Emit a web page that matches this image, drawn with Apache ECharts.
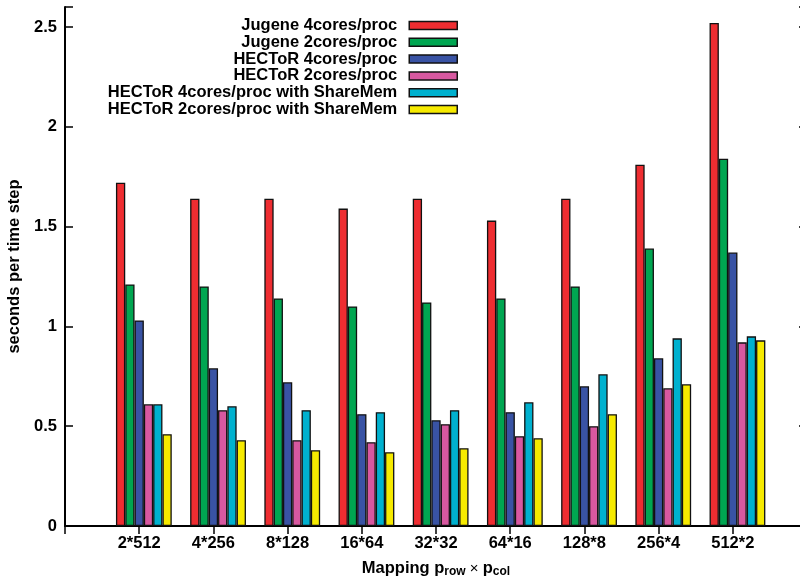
<!DOCTYPE html>
<html>
<head>
<meta charset="utf-8">
<script src="https://cdn.jsdelivr.net/npm/echarts@6/dist/echarts.min.js"></script>
<style>
  html, body { margin: 0; padding: 0; background: #fff; }
  #chart { width: 800px; height: 582px; }
</style>
</head>
<body>
<div id="chart"></div>
<script>
const mappings = ["2*512", "4*256", "8*128", "16*64", "32*32", "64*16", "128*8", "256*4", "512*2"];
const yTicks = [0, 0.5, 1, 1.5, 2, 2.5];

const jugene4 = [1.72, 1.64, 1.64, 1.59, 1.64, 1.53, 1.64, 1.81, 2.52];
const jugene2 = [1.21, 1.20, 1.14, 1.10, 1.12, 1.14, 1.20, 1.39, 1.84];
const hector4 = [1.03, 0.79, 0.72, 0.56, 0.53, 0.57, 0.70, 0.84, 1.37];
const hector2 = [0.61, 0.58, 0.43, 0.42, 0.51, 0.45, 0.50, 0.69, 0.92];
const hector4Shm = [0.61, 0.60, 0.58, 0.57, 0.58, 0.62, 0.76, 0.94, 0.95];
const hector2Shm = [0.46, 0.43, 0.38, 0.37, 0.39, 0.44, 0.56, 0.71, 0.93];

const seriesDefs = [
  { name: "Jugene 4cores/proc", data: jugene4, color: "#ee2d31" },
  { name: "Jugene 2cores/proc", data: jugene2, color: "#00a651" },
  { name: "HECToR 4cores/proc", data: hector4, color: "#3953a4" },
  { name: "HECToR 2cores/proc", data: hector2, color: "#d858a0" },
  { name: "HECToR 4cores/proc with ShareMem", data: hector4Shm, color: "#00b1cf" },
  { name: "HECToR 2cores/proc with ShareMem", data: hector2Shm, color: "#f6ea00" }
];

// gnuplot-style x range: one empty slot before the first group, a bit after the last
const cats = [""].concat(mappings, [""]);
const pad = (arr) => [null].concat(arr, [null]);

const font = "'Liberation Sans', Arial, sans-serif";
const fs = 16.5;

const chart = echarts.init(document.getElementById("chart"));

const series = [
  // spacer so the six visible bars sit right of the tick, as in the original
  { name: "_spacer", type: "bar", data: pad(mappings.map(() => null)), barWidth: 9.3, barGap: "0%", silent: true }
].concat(seriesDefs.map((s) => ({
  name: s.name,
  type: "bar",
  data: pad(s.data),
  barWidth: 9.3,
  barGap: "0%",
  itemStyle: { color: s.color, borderColor: "#111", borderWidth: 1.3 }
})));

const legends = seriesDefs.map((s, i) => ({
  data: [{ name: s.name, icon: "rect" }],
  orient: "vertical",
  align: "right",
  right: 342,
  top: 17 + i * 16.8,
  padding: 0,
  itemWidth: 48,
  itemHeight: 8,
  selectedMode: false,
  itemStyle: { borderColor: "#111", borderWidth: 1.5 },
  textStyle: { fontFamily: font, fontWeight: "bold", fontSize: fs, color: "#000", padding: [0, 7, 0, 0] }
}));

chart.setOption({
  animation: false,
  backgroundColor: "#fff",
  legend: legends,
  grid: { left: 65, right: -7, top: 7, bottom: 56, containLabel: false, outerBoundsMode: "none" },
  xAxis: [
    {
      type: "category",
      data: cats,
      boundaryGap: false,
      name: "{b|Mapping p}{s|row}{x| × }{b|p}{s|col}",
      nameLocation: "middle",
      nameGap: 33,
      nameTextStyle: {
        rich: {
          b: { fontFamily: font, fontWeight: "bold", fontSize: fs, color: "#000" },
          s: { fontFamily: font, fontWeight: "bold", fontSize: 12, color: "#000", verticalAlign: "bottom", padding: [7, 0, 0, 0] },
          x: { fontFamily: font, fontSize: 15, color: "#000" }
        }
      },
      axisLine: { lineStyle: { color: "#000", width: 2 } },
      axisTick: { inside: true, length: 8, interval: 0, lineStyle: { color: "#000", width: 1.5 } },
      axisLabel: { interval: 0, margin: 9, fontFamily: font, fontWeight: "bold", fontSize: fs, color: "#000" },
      splitLine: { show: false }
    },
    {
      type: "category",
      data: cats,
      boundaryGap: false,
      position: "top",
      axisLine: { lineStyle: { color: "#000", width: 2 } },
      axisTick: { inside: true, length: 8, interval: 0, lineStyle: { color: "#000", width: 1.5 } },
      axisLabel: { show: false },
      splitLine: { show: false }
    }
  ],
  yAxis: [
    {
      type: "value",
      min: 0,
      max: 2.6,
      interval: 0.5,
      name: "seconds per time step",
      nameLocation: "middle",
      nameGap: 35,
      nameTextStyle: { fontFamily: font, fontWeight: "bold", fontSize: fs, color: "#000" },
      axisLine: { show: true, lineStyle: { color: "#000", width: 2 } },
      axisTick: { show: true, inside: true, length: 8, lineStyle: { color: "#000", width: 1.5 } },
      axisLabel: {
        margin: 8,
        fontFamily: font,
        fontWeight: "bold",
        fontSize: fs,
        color: "#000",
        formatter: (v) => (yTicks.includes(v) ? String(v) : "")
      },
      splitLine: { show: false }
    },
    {
      type: "value",
      min: 0,
      max: 2.6,
      interval: 0.5,
      position: "right",
      axisLine: { show: true, lineStyle: { color: "#000", width: 2 } },
      axisTick: { show: true, inside: true, length: 8, lineStyle: { color: "#000", width: 1.5 } },
      axisLabel: { show: false },
      splitLine: { show: false }
    }
  ],
  series: series
});
</script>
</body>
</html>
